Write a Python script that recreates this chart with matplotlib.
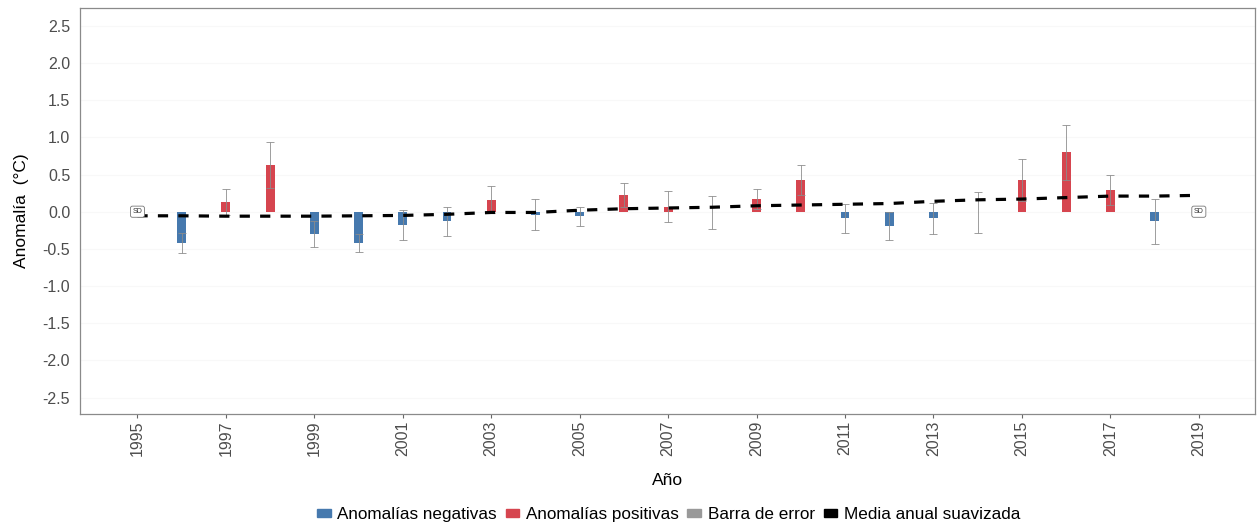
import numpy as np
import matplotlib
matplotlib.use("Agg")
import matplotlib.pyplot as plt
from matplotlib.patches import Patch

plt.rcParams['font.family'] = ['Liberation Sans', 'DejaVu Sans']

years = [1996, 1997, 1998, 1999, 2000, 2001, 2002, 2003, 2004, 2005, 2006, 2007,
         2008, 2009, 2010, 2011, 2012, 2013, 2014, 2015, 2016, 2017, 2018]
anomaly = [-0.42, 0.13, 0.63, -0.30, -0.42, -0.18, -0.13, 0.16, -0.04, -0.06, 0.23, 0.07,
           -0.01, 0.17, 0.43, -0.09, -0.19, -0.09, -0.01, 0.43, 0.80, 0.29, -0.13]
sd = [0.14, 0.17, 0.31, 0.18, 0.12, 0.20, 0.20, 0.18, 0.21, 0.13, 0.16, 0.21,
      0.22, 0.14, 0.20, 0.20, 0.19, 0.21, 0.28, 0.28, 0.37, 0.20, 0.30]

smooth_years = list(range(1995, 2020))
smooth_mean = [-0.055, -0.055, -0.06, -0.06, -0.06, -0.055, -0.05, -0.035, -0.01, -0.01,
               0.02, 0.04, 0.05, 0.06, 0.08, 0.09, 0.10, 0.11, 0.14, 0.16,
               0.17, 0.19, 0.21, 0.21, 0.22]

xticks = list(range(1995, 2020, 2))
yticks = [-2.5, -2.0, -1.5, -1.0, -0.5, 0.0, 0.5, 1.0, 1.5, 2.0, 2.5]

blue = '#4679ae'
red = '#d6454f'
grey = '#8c8c8c'

fig = plt.figure(figsize=(12.57, 5.29), dpi=100)
ax = fig.add_axes([0.0636, 0.2174, 0.9348, 0.7676])

for y in yticks:
    ax.axhline(y, color='#f8f8f8', lw=0.8, zorder=0)

colors = [red if v > 0 else blue for v in anomaly]
ax.bar(years, anomaly, width=0.2, color=colors, zorder=2)
ax.errorbar(years, anomaly, yerr=sd, fmt='none', ecolor=grey, elinewidth=0.7,
            capsize=3.2, capthick=0.7, alpha=0.85, zorder=3)
ax.plot(smooth_years, smooth_mean, color='black', lw=2.3, ls=(0, (3.2, 3.2)), zorder=4)

for xs in (1995, 2019):
    ax.text(xs, 0, 'SD', fontsize=5, ha='center', va='center', color='#333333', zorder=5,
            bbox=dict(boxstyle='round,pad=0.3', fc='white', ec='#777777', lw=0.6))

ax.set_xlim(1993.7, 2020.27)
ax.set_ylim(-2.72, 2.74)
ax.set_xticks(xticks)
ax.set_xticklabels([str(x) for x in xticks], rotation=90)
ax.set_yticks(yticks)
ax.set_yticklabels(['%.1f' % y for y in yticks])
ax.tick_params(axis='both', labelsize=11.5, labelcolor='#4d4d4d', color='#666666', length=3)
ax.tick_params(axis='x', pad=2)
ax.tick_params(axis='y', length=0, pad=7)

for s in ax.spines.values():
    s.set_color('#8a8a8a')
    s.set_linewidth(0.9)

ax.set_xlabel('Año', fontsize=12.5, labelpad=12)
ax.set_ylabel('Anomalía  (°C)', fontsize=12.5, labelpad=10)

handles = [Patch(color=blue), Patch(color=red), Patch(color='#999999'), Patch(color='black')]
labels = ['Anomalías negativas', 'Anomalías positivas', 'Barra de error', 'Media anual suavizada']
fig.legend(handles, labels, loc='center', bbox_to_anchor=(0.532, 0.027), ncol=4, frameon=False,
           fontsize=12.3, handlelength=0.8, handleheight=0.3, handletextpad=0.4, columnspacing=0.5)

fig.savefig('out.png', dpi=100)
